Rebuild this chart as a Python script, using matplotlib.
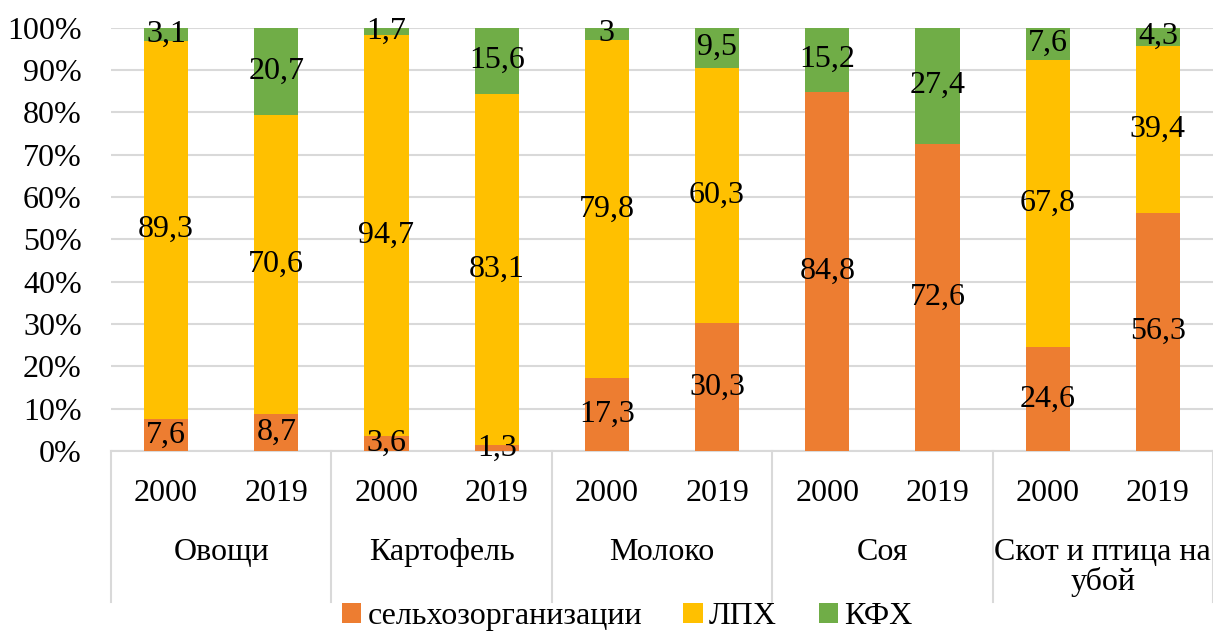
import matplotlib.pyplot as plt
import matplotlib.ticker as ticker
from matplotlib.lines import Line2D
import numpy as np

plt.rcParams['font.family'] = ['Liberation Serif', 'DejaVu Serif']
plt.rcParams['font.size'] = 23

groups = ['Овощи', 'Картофель', 'Молоко', 'Соя', 'Скот и птица на\nубой']
years = ['2000', '2019']
series_names = ['сельхозорганизации', 'ЛПХ', 'КФХ']
selkhoz = [7.6, 8.7, 3.6, 1.3, 17.3, 30.3, 84.8, 72.6, 24.6, 56.3]
lph = [89.3, 70.6, 94.7, 83.1, 79.8, 60.3, 0, 0, 67.8, 39.4]
kfh = [3.1, 20.7, 1.7, 15.6, 3, 9.5, 15.2, 27.4, 7.6, 4.3]
colors = ['#ED7D31', '#FFC000', '#70AD47']

data = np.array([selkhoz, lph, kfh], dtype=float)
shares = data / data.sum(axis=0) * 100

fig = plt.figure(figsize=(12.13, 6.32), dpi=100)
ax = fig.add_axes([0.0915, 0.2864, 0.9085, 0.67])

x = np.arange(len(selkhoz))
bottom = np.zeros(len(x))
for name, vals, raw, c in zip(series_names, shares, data, colors):
    ax.bar(x, vals, 0.4, bottom=bottom, color=c, label=name, zorder=3)
    for xi, b, v, r in zip(x, bottom, vals, raw):
        if r > 0:
            txt = f"{r:g}".replace('.', ',')
            ax.text(xi, b + v / 2, txt, ha='center', va='center', zorder=4)
    bottom += vals

ax.set_xlim(-0.5, len(x) - 0.5)
ax.set_ylim(0, 100)
ax.yaxis.set_major_locator(ticker.MultipleLocator(10))
ax.yaxis.set_major_formatter(ticker.FuncFormatter(lambda v, _: f"{int(v)}%"))
ax.grid(axis='y', color='#D9D9D9', linewidth=1.5, zorder=0)
for s in ['top', 'right', 'left']:
    ax.spines[s].set_visible(False)
ax.spines['bottom'].set_color('#D9D9D9')
ax.spines['bottom'].set_linewidth(1.5)
ax.tick_params(axis='y', length=0, pad=21)
ax.tick_params(axis='x', length=0, pad=20)
ax.set_xticks(x)
ax.set_xticklabels(years * len(groups))

trans = ax.get_xaxis_transform()
for i, g in enumerate(groups):
    ax.text(2 * i + 0.5, -0.205, g, transform=trans, ha='center', va='top',
            linespacing=1.0)
for xs in np.arange(-0.5, len(x), 2):
    ax.add_line(Line2D([xs, xs], [0, -0.357], transform=trans, color='#D9D9D9',
                       linewidth=1.5, clip_on=False))

fig.legend(loc='center', bbox_to_anchor=(0.517, 0.024), ncol=3, frameon=False,
           handlelength=0.6, handleheight=0.6, handletextpad=0.2,
           columnspacing=1.3, borderpad=0)

fig.savefig('out.png', dpi=100)
